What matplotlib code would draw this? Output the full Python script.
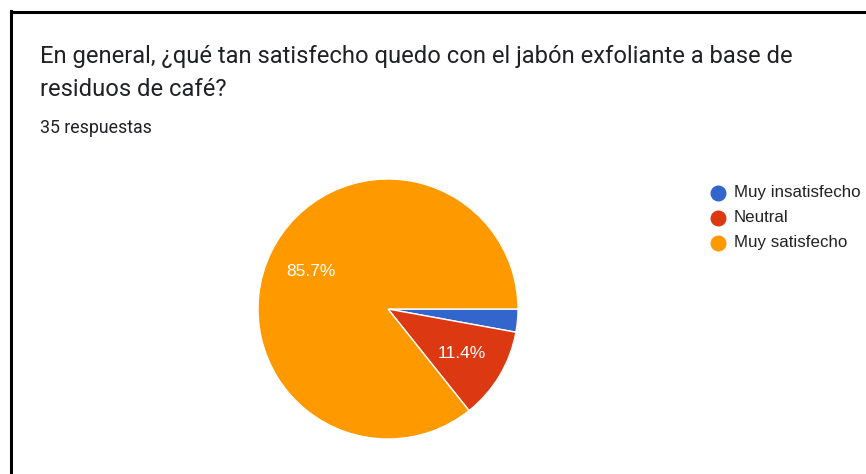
import matplotlib.pyplot as plt
from matplotlib.lines import Line2D

# datos (35 respuestas)
labels = ["Muy insatisfecho", "Neutral", "Muy satisfecho"]
counts = [1, 4, 30]
colors = ["#3366CC", "#DC3912", "#FF9900"]

W, H = 866, 474
fig = plt.figure(figsize=(W / 100, H / 100), dpi=100)
plt.rcParams['font.family'] = ['Roboto', 'DejaVu Sans']
arial = ['Liberation Sans', 'DejaVu Sans']

# marco negro (izquierda y arriba)
fig.add_artist(Line2D([11 / W, 11 / W], [0, 1 - 11 / H], color="black", lw=2.2))
fig.add_artist(Line2D([11 / W, 1], [1 - 12 / H, 1 - 12 / H], color="black", lw=2.2))

fig.text(40 / W, 1 - 63 / H, "En general, ¿qué tan satisfecho quedo con el jabón exfoliante a base de",
         fontsize=17.1, color="#202124")
fig.text(40 / W, 1 - 96 / H, "residuos de café?", fontsize=17.1, color="#202124")
fig.text(40 / W, 1 - 133 / H, "35 respuestas", fontsize=12.8, color="#202124")

# pie: centro (388, 309), radio 130 px
cx, cy, r = 388, 309, 130
ax = fig.add_axes([(cx - r) / W, (H - cy - r) / H, 2 * r / W, 2 * r / H])

def fmt(p):
    return "%.1f%%" % p if p > 5 else ""

wedges, texts, autotexts = ax.pie(counts, colors=colors, startangle=0, counterclock=False,
                                  autopct=fmt, pctdistance=0.66, radius=1,
                                  wedgeprops=dict(edgecolor="white", linewidth=1))
for t in autotexts:
    t.set_color("white")
    t.set_fontsize(12.5)
    t.set_family(arial)
ax.set_xlim(-1, 1)
ax.set_ylim(-1, 1)
ax.set_aspect("equal")
ax.axis("off")

# leyenda
for i, (lab, c) in enumerate(zip(labels, colors)):
    y = 1 - (193 + 25 * i) / H
    fig.add_artist(Line2D([718 / W], [y], marker="o", markersize=10.5, color=c, linestyle=""))
    fig.text(734 / W, y, lab, fontsize=12.2, color="#222222", va="center", family=arial)

fig.savefig("out.png", dpi=100, facecolor="white")
